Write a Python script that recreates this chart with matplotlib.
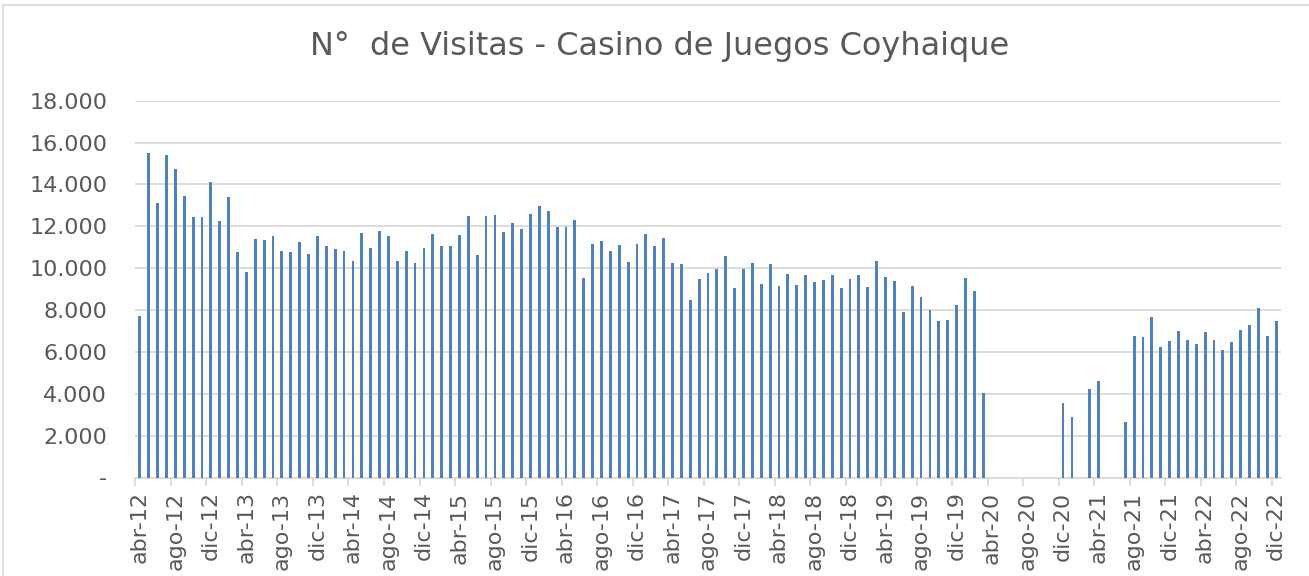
import matplotlib
matplotlib.use("Agg")
import matplotlib.pyplot as plt
from matplotlib.patches import Rectangle
from matplotlib.ticker import FuncFormatter, FixedLocator

# ---- data ----
month_abbr = ["ene", "feb", "mar", "abr", "may", "jun",
              "jul", "ago", "sep", "oct", "nov", "dic"]
start_year = 2012
start_month_idx = 3  # abr

visitas = [
    7700, 15500, 13100, 15400, 14750, 13450, 12450, 12440, 14100, 12230, 13390, 10780,   # abr-12 .. mar-13
    9840, 11390, 11340, 11530, 10840, 10750, 11260, 10700, 11540, 11050, 10920, 10810,   # abr-13 .. mar-14
    10350, 11670, 10940, 11770, 11530, 10350, 10840, 10270, 10960, 11620, 11040, 11080,  # abr-14 .. mar-15
    11580, 12500, 10650, 12480, 12530, 11720, 12180, 11890, 12610, 12990, 12750, 11990,  # abr-15 .. mar-16
    11960, 12280, 9550, 11160, 11320, 10800, 11130, 10290, 11160, 11620, 11050, 11460,   # abr-16 .. mar-17
    10250, 10220, 8470, 9460, 9750, 9980, 10560, 9040, 9950, 10240, 9240, 10180,        # abr-17 .. mar-18
    9170, 9710, 9200, 9650, 9330, 9430, 9650, 9040, 9460, 9650, 9110, 10320,            # abr-18 .. mar-19
    9590, 9390, 7900, 9170, 8610, 8010, 7500, 7520, 8220, 9510, 8890, 4060,             # abr-19 .. mar-20
    0, 0, 0, 0, 0, 0, 0, 0, 3580, 2880, 0, 4250,                                       # abr-20 .. mar-21
    4590, 0, 0, 2640, 6780, 6700, 7690, 6230, 6500, 6990, 6560, 6400,                  # abr-21 .. mar-22
    6930, 6580, 6070, 6450, 7050, 7280, 8100, 6750, 7470,                              # abr-22 .. dic-22
]

categories = []
for i in range(len(visitas)):
    m = (start_month_idx + i) % 12
    y = start_year + (start_month_idx + i) // 12
    categories.append(f"{month_abbr[m]}-{str(y)[-2:]}")

title = "N°  de Visitas - Casino de Juegos Coyhaique"
y_ticks = [0, 2000, 4000, 6000, 8000, 10000, 12000, 14000, 16000, 18000]

# ---- style ----
text_color = "#595959"
grid_color = "#d9d9d9"
bar_color = "#4f81bd"
plt.rcParams["font.family"] = ["DejaVu Sans"]

W, H = 1309, 576
fig = plt.figure(figsize=(W / 100, H / 100), dpi=100)
fig.patch.set_facecolor("white")

# chart-area border
fig.patches.append(Rectangle((3 / W, -0.01), 1.1, 1 - 5 / H + 0.01,
                             transform=fig.transFigure, fill=False,
                             edgecolor=grid_color, linewidth=1.2))

ax = fig.add_axes([135 / W, 1 - 477.5 / H, (1281 - 135) / W, (477.5 - 100.7) / H])

x = list(range(len(visitas)))
ax.bar(x, visitas, width=0.32, color=bar_color, zorder=3)

ax.set_xlim(-0.55, len(visitas) - 0.45)
ax.set_ylim(0, 18000)

ax.set_yticks(y_ticks)
ax.yaxis.set_major_formatter(FuncFormatter(
    lambda v, p: "-" if v == 0 else f"{int(v):,}".replace(",", ".")))
ax.grid(axis="y", color=grid_color, linewidth=1.3, zorder=0)
ax.tick_params(axis="y", length=0, pad=20, labelsize=16, labelcolor=text_color)

label_pos = x[::4]
ax.set_xticks(label_pos)
ax.set_xticklabels([categories[i] for i in label_pos], rotation=90)
ax.tick_params(axis="x", which="major", length=0, pad=10, labelsize=16,
               labelcolor=text_color)
ax.xaxis.set_minor_locator(FixedLocator([i - 0.5 for i in label_pos]))
ax.tick_params(axis="x", which="minor", length=6, width=1.3, color=grid_color)

for s in ["top", "right", "left"]:
    ax.spines[s].set_visible(False)
ax.spines["bottom"].set_color(grid_color)
ax.spines["bottom"].set_linewidth(1.3)

fig.text(660 / W, 1 - 47 / H, title, ha="center", va="center",
         fontsize=23, color=text_color)

fig.savefig("out.png", dpi=100, facecolor="white")
